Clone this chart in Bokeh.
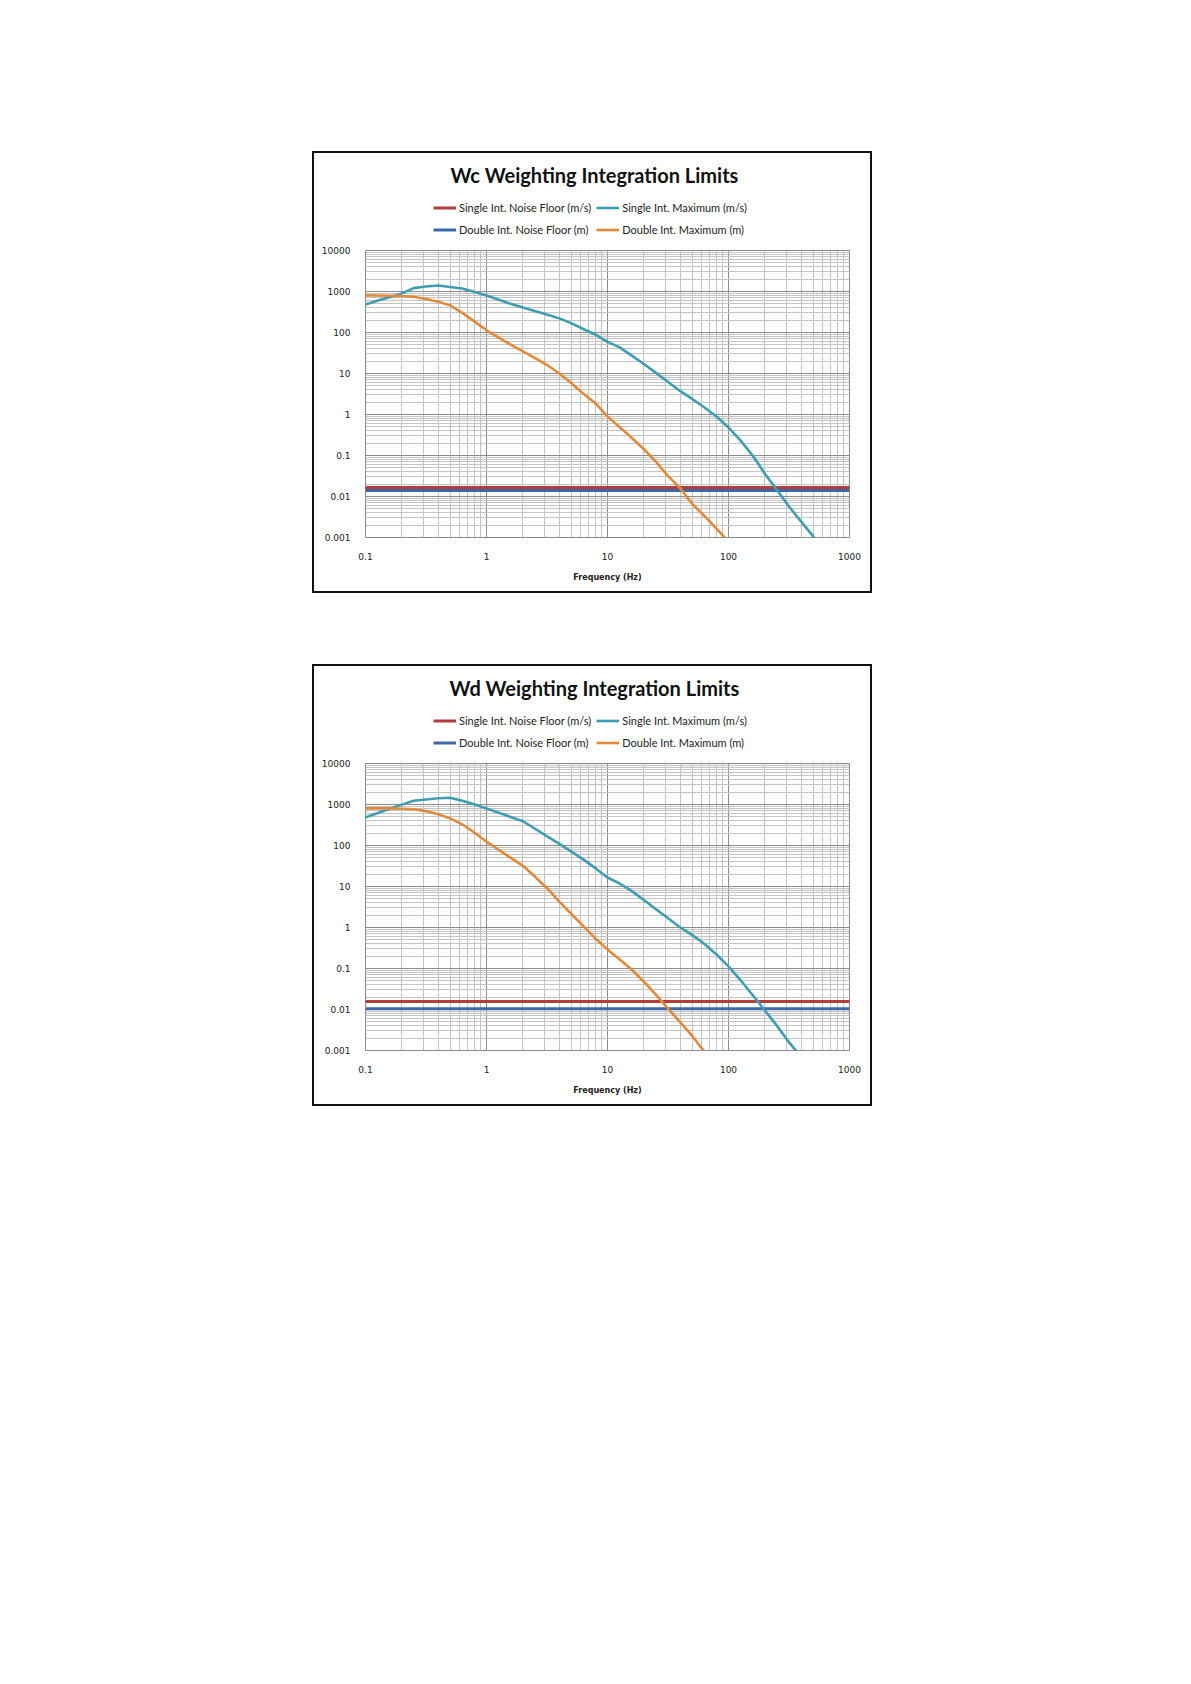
from bokeh.plotting import figure
from bokeh.models import FixedTicker, Legend, LegendItem, Spacer, Range1d, Label
from bokeh.layouts import column, row
from bokeh.embed import file_html
from bokeh.resources import INLINE

# ---------------- data ----------------
x_ticks = [0.1, 1, 10, 100, 1000]
x_tick_labels = ["0.1", "1", "10", "100", "1000"]
y_ticks = [0.001, 0.01, 0.1, 1, 10, 100, 1000, 10000]
y_tick_labels = ["0.001", "0.01", "0.1", "1", "10", "100", "1000", "10000"]

floor_x = [0.1, 1000]

# Wc weighting
wc_single_f = [0.1, 0.125, 0.16, 0.2, 0.25, 0.315, 0.4, 0.5, 0.63, 0.8, 1, 1.25, 1.6, 2, 2.5,
               3.15, 4, 5, 6.3, 8, 10, 12.5, 16, 20, 25, 31.5, 40, 50, 63, 80, 100, 125,
               160, 200, 250, 315, 400, 500, 630]
wc_single_max = [485, 593, 738, 900, 1210, 1320, 1400, 1290, 1180, 975, 803, 637, 495, 407, 336,
                 274, 221, 169, 122, 88, 59, 44, 27, 17, 10.5, 6.3, 3.7, 2.4, 1.5, 0.88, 0.48, 0.237,
                 0.096, 0.036, 0.0148, 0.0058, 0.0024, 0.00108, 0.0004]
wc_double_f = [0.1, 0.125, 0.16, 0.2, 0.25, 0.315, 0.4, 0.5, 0.63, 0.8, 1, 1.25, 1.6, 2, 2.5,
               3.15, 4, 5, 6.3, 8, 10, 12.5, 16, 20, 25, 31.5, 40, 50, 63, 80, 100, 125]
wc_double_max = [803, 800, 790, 775, 745, 658, 565, 459, 300, 184, 113, 76, 50, 34.8, 24,
                 16.3, 10, 5.85, 3.27, 1.85, 0.9, 0.5, 0.263, 0.142, 0.0716, 0.032, 0.0158, 0.0067,
                 0.0034, 0.00162, 0.00078, 0.0003]
wc_single_floor = [0.0165, 0.0165]
wc_double_floor = [0.0141, 0.0141]

# Wd weighting
wd_single_f = [0.1, 0.125, 0.16, 0.2, 0.25, 0.315, 0.4, 0.5, 0.63, 0.8, 1, 1.25, 1.6, 2, 2.5,
               3.15, 4, 5, 6.3, 8, 10, 12.5, 16, 20, 25, 31.5, 40, 50, 63, 80, 100, 125,
               160, 200, 250, 315, 400, 500]
wd_single_max = [485, 614, 800, 993, 1236, 1330, 1420, 1460, 1240, 1005, 803, 637, 491, 390, 260,
                 169, 109, 72, 46, 27.6, 16.6, 12, 7.6, 4.7, 2.83, 1.7, 1.0, 0.66, 0.40, 0.217, 0.113,
                 0.053, 0.0216, 0.0095, 0.0041, 0.00162, 0.00068, 0.0003]
wd_double_f = [0.1, 0.125, 0.16, 0.2, 0.25, 0.315, 0.4, 0.5, 0.63, 0.8, 1, 1.25, 1.6, 2, 2.5,
               3.15, 4, 5, 6.3, 8, 10, 12.5, 16, 20, 25, 31.5, 40, 50, 63, 80]
wd_double_max = [803, 803, 803, 790, 765, 690, 575, 459, 329, 205, 124, 80, 49, 32, 17.7,
                 9.2, 4.26, 2.17, 1.1, 0.53, 0.29, 0.171, 0.092, 0.0475, 0.0233, 0.0107, 0.00487,
                 0.0023, 0.00094, 0.0003]
wd_single_floor = [0.0157, 0.0157]
wd_double_floor = [0.0105, 0.0105]

series_labels = ["Single Int. Noise Floor (m/s)", "Single Int. Maximum (m/s)",
                 "Double Int. Noise Floor (m)", "Double Int. Maximum (m)"]

RED = "#B23E3C"
TEAL = "#3E9DB3"
BLUE = "#3E67A8"
ORANGE = "#E2893A"

W = 560
FRAME_W = 484
HEAD_H = 89
MAIN_H = 353
BORDER = "2px solid #111111"
HEAD_SHIFT = 20   # keeps the legend-only copies of the series well out of the header's view


def minor_list(lo_exp, hi_exp):
    out = []
    for e in range(lo_exp, hi_exp):
        for m in range(2, 10):
            out.append(m * 10.0 ** e)
    return out


def draw_series(fig, sf, smax, df, dmax, sfloor, dfloor):
    r_sf = fig.line(floor_x, sfloor, line_color=RED, line_width=3)
    r_df = fig.line(floor_x, dfloor, line_color=BLUE, line_width=3)
    r_sm = fig.line(sf, smax, line_color=TEAL, line_width=2.6)
    r_dm = fig.line(df, dmax, line_color=ORANGE, line_width=2.6)
    return r_sf, r_sm, r_df, r_dm


def make_header(title, series):
    # header strip: its frame is aligned with the chart frame below; the
    # x range is negative so the series drawn here (for the legend) stay out of view
    h = figure(width=W, height=HEAD_H,
               x_range=Range1d(-FRAME_W - HEAD_SHIFT, -HEAD_SHIFT), y_range=Range1d(0, HEAD_H),
               x_axis_location=None, y_axis_location=None, title=None,
               output_backend="svg", toolbar_location=None,
               min_border_left=0, min_border_right=0, min_border_top=0, min_border_bottom=0)
    h.styles = {"border-top": BORDER, "border-left": BORDER, "border-right": BORDER}
    h.xgrid.visible = False
    h.ygrid.visible = False
    h.outline_line_color = None
    h.background_fill_color = "white"
    h.border_fill_color = "white"

    h.add_layout(Label(x=-255 - HEAD_SHIFT, y=68, text=title, text_align="center",
                       text_baseline="middle",
                       text_font="Lato", text_font_style="bold", text_font_size="20px",
                       text_color="#111111"))

    r_sf, r_sm, r_df, r_dm = draw_series(h, *series)
    # column-major fill: col 1 = noise floors, col 2 = maxima
    items = [LegendItem(label=series_labels[0], renderers=[r_sf]),
             LegendItem(label=series_labels[2], renderers=[r_df]),
             LegendItem(label=series_labels[1], renderers=[r_sm]),
             LegendItem(label=series_labels[3], renderers=[r_dm])]
    leg = Legend(items=items, ncols=2, location=(68, 4),
                 border_line_color=None, background_fill_alpha=0,
                 padding=0, margin=0, spacing=5,
                 glyph_width=23, glyph_height=17, label_height=17,
                 label_standoff=3, label_text_font="Lato",
                 label_text_font_size="11px", label_text_color="#222222")
    h.add_layout(leg)
    return h


def make_chart(title, sf, smax, df, dmax, sfloor, dfloor):
    p = figure(width=W, height=MAIN_H, x_axis_type="log", y_axis_type="log",
               x_range=Range1d(0.1, 1000), y_range=Range1d(0.001, 10000),
               title=None, output_backend="svg", toolbar_location=None,
               min_border_left=51, min_border_right=25, min_border_bottom=56,
               min_border_top=10)
    p.styles = {"border-bottom": BORDER, "border-left": BORDER, "border-right": BORDER}
    p.background_fill_color = "white"
    p.border_fill_color = "white"
    p.outline_line_color = "#8a8a8a"

    p.xaxis.ticker = FixedTicker(ticks=x_ticks, minor_ticks=minor_list(-1, 3))
    p.yaxis.ticker = FixedTicker(ticks=y_ticks, minor_ticks=minor_list(-3, 4))
    p.xaxis.major_label_overrides = dict(zip(x_ticks, x_tick_labels))
    p.yaxis.major_label_overrides = dict(zip(y_ticks, y_tick_labels))
    for ax in (p.xaxis, p.yaxis):
        ax.axis_line_color = None
        ax.major_tick_line_color = None
        ax.minor_tick_line_color = None
        ax.major_tick_out = 0
        ax.major_tick_in = 0
        ax.major_label_text_font = "DejaVu Sans"
        ax.major_label_text_font_size = "9px"
        ax.major_label_text_color = "#222222"
        ax.major_label_standoff = 11
    p.xaxis.axis_label = "Frequency (Hz)"
    p.xaxis.axis_label_text_font = "DejaVu Sans"
    p.xaxis.axis_label_text_font_style = "bold"
    p.xaxis.axis_label_text_font_size = "8px"
    p.xaxis.axis_label_text_color = "#222222"
    p.xaxis.axis_label_standoff = 10

    for g in (p.xgrid, p.ygrid):
        g.grid_line_color = "#8c8c8c"
        g.grid_line_width = 1
        g.minor_grid_line_color = "#c4c4c4"
        g.minor_grid_line_width = 1

    series = (sf, smax, df, dmax, sfloor, dfloor)
    draw_series(p, *series)

    return column(make_header(title, series), p)


c1 = make_chart("Wc Weighting Integration Limits", wc_single_f, wc_single_max,
                wc_double_f, wc_double_max, wc_single_floor, wc_double_floor)
c2 = make_chart("Wd Weighting Integration Limits", wd_single_f, wd_single_max,
                wd_double_f, wd_double_max, wd_single_floor, wd_double_floor)

TOTAL_H = HEAD_H + MAIN_H + 4
page = column(Spacer(width=10, height=151),
              row(Spacer(width=312, height=TOTAL_H), c1),
              Spacer(width=10, height=67),
              row(Spacer(width=312, height=TOTAL_H), c2))

open("out.html", "w").write(file_html(page, INLINE))
